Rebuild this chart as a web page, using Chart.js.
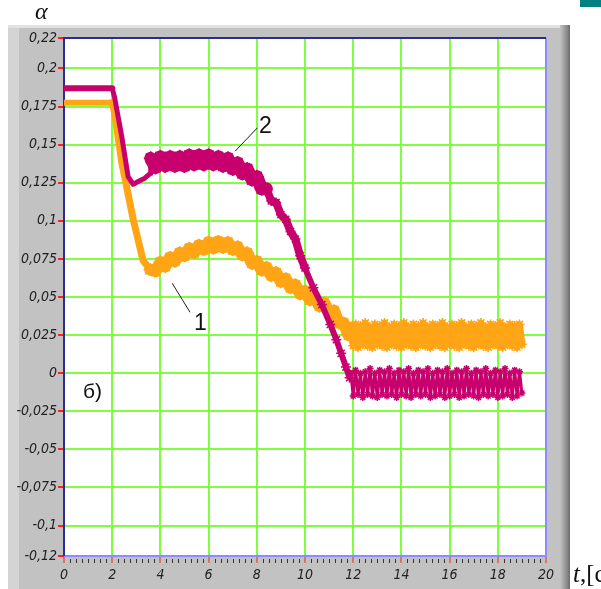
<!DOCTYPE html>
<html>
<head>
<meta charset="utf-8">
<script src="https://cdn.jsdelivr.net/npm/chart.js@4/dist/chart.umd.min.js"></script>
<style>
  body { margin: 0; background: #fff; width: 601px; height: 589px; overflow: hidden; position: relative; }
  #wrap { position: absolute; left: 0; top: 0; width: 601px; height: 589px; }
  .lbl { position: absolute; color: #111; white-space: nowrap; }
  .serif { font-family: 'Liberation Serif', 'DejaVu Serif', serif; }
  .sans { font-family: 'Liberation Sans', Arial, sans-serif; }
  #teal { position: absolute; left: 580px; top: 0; width: 21px; height: 7px; background: #008080; }
</style>
</head>
<body>
<div id="wrap"><canvas id="chart" width="601" height="589"></canvas></div>
<div id="teal"></div>
<div class="lbl serif" style="left:35px; top:-2px; font-size:24px; font-style:italic;">α</div>
<div class="lbl serif" style="left:573px; top:560px; font-size:25px;"><i>t</i>,[c]</div>
<div class="lbl sans" style="left:83px; top:379px; font-size:21px;">б)</div>
<div class="lbl sans" style="left:259px; top:112px; font-size:23px;">2</div>
<div class="lbl sans" style="left:194px; top:309px; font-size:23px;">1</div>
<script>
// --- Data ---
const xTicks = [0, 2, 4, 6, 8, 10, 12, 14, 16, 18, 20];
const yTicks = [-0.12, -0.1, -0.075, -0.05, -0.025, 0, 0.025, 0.05, 0.075, 0.1, 0.125, 0.15, 0.175, 0.2, 0.22];

// common time grid of the steady noisy part (t > 11.9 s)
const tFlat = [11.9, 12.0, 12.1, 12.2, 12.3, 12.4, 12.5, 12.6, 12.7, 12.8, 12.9, 13.0, 13.1, 13.2, 13.3, 13.4, 13.5, 13.6,
  13.7, 13.8, 13.9, 14.0, 14.1, 14.2, 14.3, 14.4, 14.5, 14.6, 14.7, 14.8, 14.9, 15.0, 15.1, 15.2, 15.3, 15.4,
  15.5, 15.6, 15.7, 15.8, 15.9, 16.0, 16.1, 16.2, 16.3, 16.4, 16.5, 16.6, 16.7, 16.8, 16.9, 17.0, 17.1, 17.2,
  17.3, 17.4, 17.5, 17.6, 17.7, 17.8, 17.9, 18.0, 18.1, 18.2, 18.3, 18.4, 18.5, 18.6, 18.7, 18.8, 18.9, 19.0];

// curve 2 (magenta)
const t2Head = [0, 2.0, 2.1, 2.4, 2.66, 2.87, 3.1, 3.35, 3.57,
  3.6, 3.8, 4.0, 4.2, 4.4, 4.6, 4.8, 5.0, 5.2, 5.4, 5.6, 5.8, 6.0, 6.2, 6.4, 6.6, 6.8, 7.0, 7.2, 7.4, 7.6, 7.8,
  8.0, 8.2, 8.4, 8.6, 8.8, 9.0, 9.2, 9.4, 9.6, 9.8, 10.0, 10.35, 10.7, 11.05, 11.3, 11.5, 11.7, 11.85];
const a2Head = [0.187, 0.187, 0.181, 0.155, 0.129, 0.124, 0.126, 0.128, 0.131,
  0.141, 0.135, 0.142, 0.136, 0.142, 0.136, 0.142, 0.136, 0.143, 0.137, 0.143, 0.137, 0.143, 0.137, 0.142, 0.136,
  0.141, 0.134, 0.138, 0.131, 0.134, 0.127, 0.129, 0.121, 0.121, 0.113, 0.112, 0.104, 0.101, 0.093, 0.088, 0.077,
  0.069, 0.056, 0.045, 0.032, 0.022, 0.013, 0.004, -0.003];
const a2Flat = [-0.000, -0.015, 0.002, -0.014, 0.000, -0.016, 0.001, -0.014, 0.003, -0.015, 0.000, -0.016, 0.002, -0.014,
  0.001, -0.015, 0.003, -0.014, 0.000, -0.016, 0.002, -0.014, 0.001, -0.015, 0.003, -0.016, 0.000, -0.014,
  0.002, -0.015, 0.001, -0.014, 0.003, -0.016, 0.000, -0.015, 0.002, -0.014, 0.001, -0.016, 0.003, -0.015,
  0.000, -0.014, 0.002, -0.016, 0.001, -0.015, 0.003, -0.014, 0.000, -0.015, 0.002, -0.016, 0.001, -0.014,
  0.003, -0.015, 0.000, -0.014, 0.002, -0.016, 0.001, -0.015, 0.003, -0.014, 0.000, -0.016, 0.002, -0.015,
  0.001, -0.013];

// curve 1 (orange)
const t1Head = [0, 2.0, 2.1, 2.4, 2.87, 3.28, 3.57,
  3.8, 4.0, 4.2, 4.4, 4.6, 4.8, 5.0, 5.2, 5.4, 5.6, 5.8, 6.0, 6.2, 6.4, 6.6, 6.8, 7.0, 7.2, 7.4, 7.6, 7.8,
  8.0, 8.2, 8.4, 8.6, 8.8, 9.0, 9.2, 9.4, 9.6, 9.8, 10.0, 10.2, 10.4, 10.6, 10.8, 11.0, 11.2, 11.4, 11.6, 11.8];
const a1Head = [0.1775, 0.1775, 0.171, 0.138, 0.101, 0.074, 0.068,
  0.067, 0.073, 0.070, 0.076, 0.0735, 0.079, 0.077, 0.082, 0.079, 0.084, 0.081, 0.086, 0.082, 0.0865, 0.0825,
  0.086, 0.081, 0.083, 0.0775, 0.079, 0.072, 0.0735, 0.0675, 0.0695, 0.064, 0.066, 0.060, 0.062, 0.056, 0.058,
  0.052, 0.054, 0.048, 0.050, 0.044, 0.046, 0.040, 0.041, 0.033, 0.033, 0.025];
const a1Flat = [0.030, 0.018, 0.032, 0.017, 0.031, 0.019, 0.033, 0.018, 0.030, 0.017, 0.032, 0.019, 0.031, 0.018,
  0.033, 0.017, 0.030, 0.019, 0.032, 0.018, 0.031, 0.017, 0.033, 0.019, 0.030, 0.018, 0.032, 0.017, 0.031,
  0.019, 0.033, 0.018, 0.030, 0.017, 0.032, 0.019, 0.031, 0.018, 0.033, 0.017, 0.030, 0.019, 0.032, 0.018,
  0.031, 0.017, 0.033, 0.019, 0.030, 0.018, 0.032, 0.017, 0.031, 0.019, 0.033, 0.018, 0.030, 0.017, 0.032,
  0.019, 0.031, 0.018, 0.033, 0.017, 0.030, 0.019, 0.032, 0.018, 0.031, 0.017, 0.032, 0.019];

const MAGENTA = '#c8006e';
const ORANGE = '#ffa516';
const GRID = '#80ff40';

function toPoints(ts, vs) {
    return ts.map((t, i) => ({ x: t, y: vs[i] }));
}

// line thickness per part of the curve
function width2(ctx) {
    const x = ctx.p0.parsed.x;
    if (x < 2.0) return 6;
    if (x < 3.58) return 5;
    if (x < 8.3) return 13;
    if (x < 9.9) return 8;
    if (x < 11.88) return 6;
    return 3;
}
function width1(ctx) {
    const x = ctx.p0.parsed.x;
    if (x < 2.0) return 6;
    if (x < 3.56) return 7;
    if (x < 11.85) return 12;
    return 7;
}
// star markers give the noisy, fuzzy look of the recorded traces
function star2(ctx) {
    const p = ctx.raw;
    if (!p) return 0;
    if (p.x >= 3.59 && p.x < 8.3) return 7;
    if (p.x >= 8.3 && p.x < 11.9) return 5;
    if (p.x >= 11.9) return 3.5;
    return 0;
}
function star1(ctx) {
    const p = ctx.raw;
    if (!p) return 0;
    if (p.x >= 3.57 && p.x < 11.85) return 6.5;
    if (p.x >= 11.85) return 5;
    return 0;
}

// --- Plugins: panel bezel, plot frame, minor ticks, leader lines ---
const panelPlugin = {
    id: 'panel',
    beforeDraw(chart) {
        const c = chart.ctx, a = chart.chartArea;
        c.save();
        c.fillStyle = '#c2c2c2';
        c.fillRect(8, 25, 562, 564);
        c.fillStyle = '#d4d4d4';
        c.fillRect(8, 25, 11, 564);
        c.fillStyle = '#e2e2e2';
        c.fillRect(8, 25, 562, 3);
        const g = c.createLinearGradient(560, 0, 570, 0);
        g.addColorStop(0, '#c2c2c2');
        g.addColorStop(0.7, '#8a8a8a');
        g.addColorStop(1, '#6a6a6a');
        c.fillStyle = g;
        c.fillRect(560, 25, 10, 564);
        c.fillStyle = '#ffffff';
        c.fillRect(a.left, a.top, a.right - a.left, a.bottom - a.top);
        c.restore();
    },
    beforeDatasetsDraw(chart) {
        const c = chart.ctx, a = chart.chartArea, xs = chart.scales.x;
        c.save();
        c.lineWidth = 2;
        c.strokeStyle = '#8c8cff';
        c.beginPath();
        c.moveTo(a.right, a.top); c.lineTo(a.right, a.bottom); c.lineTo(a.left, a.bottom);
        c.stroke();
        c.strokeStyle = '#2a2a9a';
        c.beginPath();
        c.moveTo(a.left, a.bottom); c.lineTo(a.left, a.top); c.lineTo(a.right, a.top);
        c.stroke();
        // minor ticks on the time axis
        c.lineWidth = 1;
        c.strokeStyle = '#333';
        for (let v = 0.25; v < 20; v += 0.25) {
            if (Math.abs(v / 2 - Math.round(v / 2)) < 1e-6) continue;
            const px = Math.round(xs.getPixelForValue(v)) + 0.5;
            c.beginPath();
            c.moveTo(px, a.bottom + 3);
            c.lineTo(px, a.bottom + 7);
            c.stroke();
        }
        c.restore();
    },
    afterDatasetsDraw(chart) {
        const c = chart.ctx, xs = chart.scales.x, ys = chart.scales.y;
        const leaders = [[7.1, 0.1457, 8.02, 0.161], [4.49, 0.059, 5.23, 0.040]];
        c.save();
        c.strokeStyle = '#222';
        c.lineWidth = 1;
        leaders.forEach(l => {
            c.beginPath();
            c.moveTo(xs.getPixelForValue(l[0]), ys.getPixelForValue(l[1]));
            c.lineTo(xs.getPixelForValue(l[2]), ys.getPixelForValue(l[3]));
            c.stroke();
        });
        c.restore();
    }
};

const tickFont = { family: "'DejaVu Sans Condensed', 'Liberation Sans Narrow', 'Liberation Sans', sans-serif", size: 14, style: 'italic' };

new Chart(document.getElementById('chart'), {
    type: 'line',
    data: {
        datasets: [
            {
                label: '2',
                data: toPoints(t2Head.concat(tFlat), a2Head.concat(a2Flat)),
                borderColor: MAGENTA,
                borderWidth: 5,
                borderJoinStyle: 'round',
                borderCapStyle: 'round',
                pointStyle: 'star',
                pointRadius: star2,
                pointBorderColor: MAGENTA,
                pointBackgroundColor: MAGENTA,
                pointBorderWidth: 1.5,
                tension: 0,
                segment: { borderWidth: width2 }
            },
            {
                label: '1',
                data: toPoints(t1Head.concat(tFlat), a1Head.concat(a1Flat)),
                borderColor: ORANGE,
                borderWidth: 5,
                borderJoinStyle: 'round',
                borderCapStyle: 'round',
                pointStyle: 'star',
                pointRadius: star1,
                pointBorderColor: ORANGE,
                pointBackgroundColor: ORANGE,
                pointBorderWidth: 1.5,
                tension: 0,
                segment: { borderWidth: width1 }
            }
        ]
    },
    options: {
        responsive: false,
        animation: false,
        devicePixelRatio: 1,
        layout: { padding: { left: 0, right: 55, top: 38, bottom: 0 } },
        plugins: { legend: { display: false }, tooltip: { enabled: false } },
        scales: {
            x: {
                type: 'linear',
                min: 0,
                max: 20,
                afterFit: s => { s.height = 33; },
                afterBuildTicks: s => { s.ticks = xTicks.map(v => ({ value: v })); },
                border: { display: false },
                grid: {
                    color: ctx => (ctx.tick && (ctx.tick.value === 0 || ctx.tick.value === 20)) ? 'rgba(0,0,0,0)' : GRID,
                    lineWidth: 2,
                    tickColor: '#ff2020',
                    tickLength: 7,
                    tickWidth: 1
                },
                ticks: { color: '#222', font: tickFont, padding: 4, maxRotation: 0, autoSkip: false }
            },
            y: {
                type: 'linear',
                min: -0.12,
                max: 0.22,
                afterFit: s => { s.width = 64; },
                afterBuildTicks: s => { s.ticks = yTicks.map(v => ({ value: v })); },
                border: { display: false },
                grid: {
                    color: ctx => (ctx.tick && (ctx.tick.value === -0.12 || ctx.tick.value === 0.22)) ? 'rgba(0,0,0,0)' : GRID,
                    lineWidth: 2,
                    tickColor: '#ff2020',
                    tickLength: 6,
                    tickWidth: 2
                },
                ticks: {
                    color: '#222',
                    font: tickFont,
                    padding: 1,
                    autoSkip: false,
                    callback: v => String(Math.round(v * 1000) / 1000).replace('.', ',')
                }
            }
        }
    },
    plugins: [panelPlugin]
});
</script>
</body>
</html>
